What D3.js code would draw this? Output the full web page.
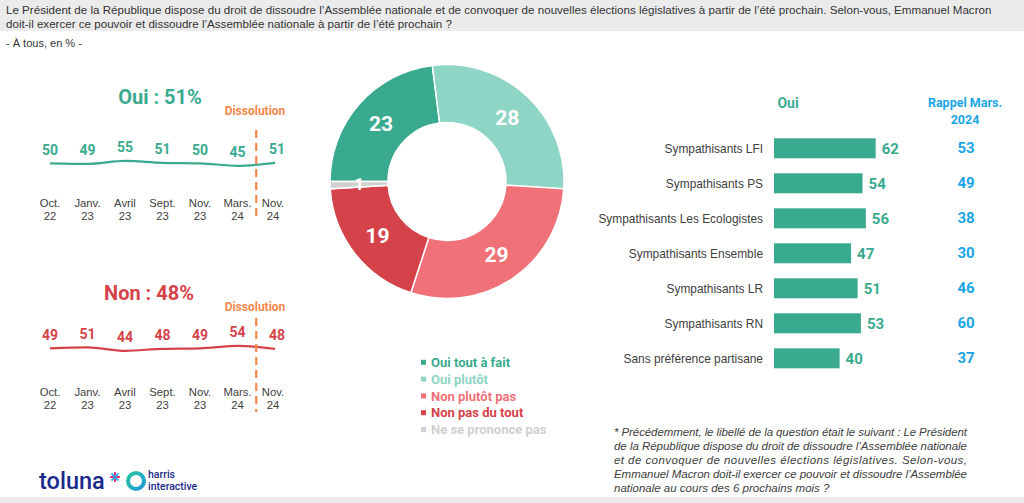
<!DOCTYPE html>
<html><head><meta charset="utf-8">
<script src="https://cdn.jsdelivr.net/npm/d3@7"></script>
<style>
html,body{margin:0;padding:0;background:#fff;}
svg{display:block;}
</style></head>
<body>
<svg id="c" width="1024" height="503"></svg>
<script>
// ---------- DATA ----------
const titleLines = [
  "Le Président de la République dispose du droit de dissoudre l’Assemblée nationale et de convoquer de nouvelles élections législatives à partir de l’été prochain. Selon-vous, Emmanuel Macron",
  "doit-il exercer ce pouvoir et dissoudre l’Assemblée nationale à partir de l’été prochain ?"
];
const subtitle = "- À tous, en % -";
const waves = [["Oct.","22"],["Janv.","23"],["Avril","23"],["Sept.","23"],["Nov.","23"],["Mars.","24"],["Nov.","24"]];
const ouiTrend = [50,49,55,51,50,45,51];
const nonTrend = [49,51,44,48,49,54,48];
const donutLabels = ["Oui tout à fait","Oui plutôt","Non plutôt pas","Non pas du tout","Ne se prononce pas"];
const donutValues = [23,28,29,19,1];
const groups = ["Sympathisants LFI","Sympathisants PS","Sympathisants Les Ecologistes","Sympathisants Ensemble","Sympathisants LR","Sympathisants RN","Sans préférence partisane"];
const ouiByGroup = [62,54,56,47,51,53,40];
const rappelMars2024 = [53,49,38,30,46,60,37];
const footnoteLines = [
  "* Précédemment, le libellé de la question était le suivant : Le Président",
  "de la République dispose du droit de dissoudre l’Assemblée nationale",
  "et de convoquer de nouvelles élections législatives. Selon-vous,",
  "Emmanuel Macron doit-il exercer ce pouvoir et dissoudre l’Assemblée",
  "nationale au cours des 6 prochains mois ?"
];

// ---------- STYLE ----------
const C = {
  teal:"#3AAA8F", tealLight:"#8FD5C5", pink:"#F07177", red:"#D5434A", grey:"#D0D0D0",
  orange:"#F4874B", blue:"#1AA6E6", text:"#404040"
};
const donutColors = [C.teal, C.tealLight, C.pink, C.red, C.grey];
const SANS = "'Liberation Sans', Arial, sans-serif";
const BOLD = "Roboto, 'Liberation Sans', Arial, sans-serif";

const svg = d3.select("#c");

// Header band
svg.append("rect").attr("x",0).attr("y",0).attr("width",1024).attr("height",31).attr("fill","#EBEBEB");
svg.selectAll(".title").data(titleLines).enter().append("text")
  .attr("x",6).attr("y",(d,i)=>14+i*14)
  .attr("font-family",SANS).attr("font-size",11.6).attr("fill","#333").text(d=>d);
svg.append("text").attr("x",6).attr("y",46.5).attr("font-family",SANS).attr("font-size",11)
  .attr("fill","#333").text(subtitle);
// bottom band
svg.append("rect").attr("x",0).attr("y",497).attr("width",1024).attr("height",6).attr("fill","#EBEBEB");

// ---------- LEFT TREND PANELS ----------
const xT = d3.scaleLinear().domain([0,6]).range([50,275]);
function trendPanel(values, color, heading, headX, headY, yScale, dashTop, dashBottom, axisY){
  const g = svg.append("g");
  g.append("text").attr("x",headX).attr("y",headY).attr("text-anchor","middle")
    .attr("font-family",BOLD).attr("font-weight","bold").attr("font-size",20).attr("fill",color).text(heading);
  g.append("text").attr("x",255).attr("y",headY+11).attr("text-anchor","middle")
    .attr("font-family",BOLD).attr("font-weight","bold").attr("font-size",12).attr("fill",C.orange).text("Dissolution");
  const line = d3.line().x((d,i)=>xT(i)).y(d=>yScale(d)).curve(d3.curveMonotoneX);
  g.append("path").attr("d",line(values)).attr("fill","none").attr("stroke",color).attr("stroke-width",2.2);
  g.selectAll(".vl").data(values).enter().append("text")
    .attr("x",(d,i)=>xT(i)+ (i===6?2:0)).attr("y",d=>yScale(d)-8.5).attr("text-anchor","middle")
    .attr("font-family",BOLD).attr("font-weight","bold").attr("font-size",14).attr("fill",color).text(d=>d);
  g.append("line").attr("x1",(xT(5)+xT(6))/2).attr("x2",(xT(5)+xT(6))/2)
    .attr("y1",dashTop).attr("y2",dashBottom).attr("stroke",C.orange).attr("stroke-width",2.2)
    .attr("stroke-dasharray","8,5");
  waves.forEach((w,i)=>{
    w.forEach((t,j)=>{
      g.append("text").attr("x",xT(i)-(i===6?2:0)).attr("y",axisY+j*12.5).attr("text-anchor","middle")
        .attr("font-family",SANS).attr("font-size",11.3).attr("fill",C.text).text(t);
    });
  });
}
const yOui = d3.scaleLinear().domain([0,100]).range([188.3,138.3]);
const yNon = d3.scaleLinear().domain([0,100]).range([372.8,322.8]);
trendPanel(ouiTrend, C.teal, "Oui : 51%", 160, 104, yOui, 130, 218, 207);
trendPanel(nonTrend, C.red, "Non : 48%", 149, 300, yNon, 318, 412, 396);

// ---------- DONUT ----------
const cx = 447, cy = 181.5, rO = 117, rI = 59;
const pie = d3.pie().sort(null).startAngle(-Math.PI/2).endAngle(3*Math.PI/2);
const arcs = pie(donutValues);
const arc = d3.arc().innerRadius(rI).outerRadius(rO);
const dg = svg.append("g").attr("transform",`translate(${cx},${cy})`);
dg.selectAll("path").data(arcs).enter().append("path")
  .attr("d",arc).attr("fill",(d,i)=>donutColors[i]).attr("stroke","#fff").attr("stroke-width",1.5);
dg.selectAll(".dl").data(arcs).enter().append("text")
  .attr("transform",d=>`translate(${arc.centroid(d)})`).attr("dy","0.36em").attr("text-anchor","middle")
  .attr("font-family",BOLD).attr("font-weight","bold").attr("font-size",d=>d.data<3?17:21)
  .attr("fill","#fff").text(d=>d.data);

// Legend
const lg = svg.append("g");
donutLabels.forEach((t,i)=>{
  const y = 362.3 + i*16.8;
  lg.append("rect").attr("x",421).attr("y",y-2.5).attr("width",5).attr("height",5).attr("fill",donutColors[i]);
  lg.append("text").attr("x",431).attr("y",y+4.6).attr("font-family",BOLD).attr("font-weight","bold")
    .attr("font-size",13).attr("fill",donutColors[i]).text(t);
});

// ---------- BARS ----------
const xB = d3.scaleLinear().domain([0,100]).range([774,938]);
const yB = d3.scaleBand().domain(groups).range([130.8,375.8]).paddingInner(15/35).paddingOuter(15/70);
const bg = svg.append("g");
bg.append("text").attr("x",788).attr("y",108).attr("text-anchor","middle")
  .attr("font-family",BOLD).attr("font-weight","bold").attr("font-size",14).attr("fill",C.teal).text("Oui");
bg.append("text").attr("x",965).attr("y",106.5).attr("text-anchor","middle")
  .attr("font-family",BOLD).attr("font-weight","bold").attr("font-size",12.5).attr("fill",C.blue).text("Rappel Mars.");
bg.append("text").attr("x",965).attr("y",124).attr("text-anchor","middle")
  .attr("font-family",BOLD).attr("font-weight","bold").attr("font-size",12.5).attr("fill",C.blue).text("2024");
bg.selectAll(".bar").data(ouiByGroup).enter().append("rect")
  .attr("x",xB(0)).attr("y",(d,i)=>yB(groups[i])).attr("width",d=>xB(d)-xB(0)).attr("height",yB.bandwidth())
  .attr("fill",C.teal);
bg.selectAll(".bv").data(ouiByGroup).enter().append("text")
  .attr("x",d=>xB(d)+6).attr("y",(d,i)=>yB(groups[i])+yB.bandwidth()/2+6)
  .attr("font-family",BOLD).attr("font-weight","bold").attr("font-size",15).attr("fill",C.teal).text(d=>d);
bg.selectAll(".bl").data(groups).enter().append("text")
  .attr("x",763).attr("y",d=>yB(d)+yB.bandwidth()/2+4.5).attr("text-anchor","end")
  .attr("font-family",SANS).attr("font-size",11.9).attr("fill",C.text).text(d=>d);
bg.selectAll(".rv").data(rappelMars2024).enter().append("text")
  .attr("x",966).attr("y",(d,i)=>yB(groups[i])+yB.bandwidth()/2+4.5).attr("text-anchor","middle")
  .attr("font-family",BOLD).attr("font-weight","bold").attr("font-size",15).attr("fill",C.blue).text(d=>d);

// ---------- FOOTNOTE ----------
footnoteLines.forEach((t,i)=>{
  const tx = svg.append("text").attr("x",614).attr("y",436+i*14)
    .attr("font-family",SANS).attr("font-style","italic").attr("font-size",11.5).attr("fill",C.text).text(t);
  if(i<4) tx.attr("textLength",353).attr("lengthAdjust","spacing");
});

// ---------- LOGO ----------
const logo = svg.append("g");
logo.append("text").attr("x",39).attr("y",489).attr("font-family",BOLD).attr("font-weight",500)
  .attr("font-size",23.5).attr("fill","#1B2A8A").text("toluna");
const ast = logo.append("g").attr("transform","translate(115,477)");
[0,45,90,135].forEach((a,i)=>{
  ast.append("line").attr("x1",0).attr("y1",-5).attr("x2",0).attr("y2",5)
    .attr("transform",`rotate(${a})`).attr("stroke",i%2?"#19B5E6":"#E5177E").attr("stroke-width",1.8);
});
const grad = svg.append("defs").append("linearGradient").attr("id","hg").attr("x1","0").attr("y1","0").attr("x2","1").attr("y2","1");
grad.append("stop").attr("offset","0").attr("stop-color","#2CC6A0");
grad.append("stop").attr("offset","1").attr("stop-color","#1E98D8");
logo.append("circle").attr("cx",136).attr("cy",481).attr("r",8).attr("fill","none")
  .attr("stroke","url(#hg)").attr("stroke-width",4);
logo.append("text").attr("x",148).attr("y",478).attr("font-family",BOLD).attr("font-weight",500)
  .attr("font-size",10.5).attr("fill","#1B2A8A").text("harris");
logo.append("text").attr("x",148).attr("y",490).attr("font-family",BOLD).attr("font-weight",500)
  .attr("font-size",10.5).attr("fill","#1B2A8A").text("interactive");
</script>
</body></html>
